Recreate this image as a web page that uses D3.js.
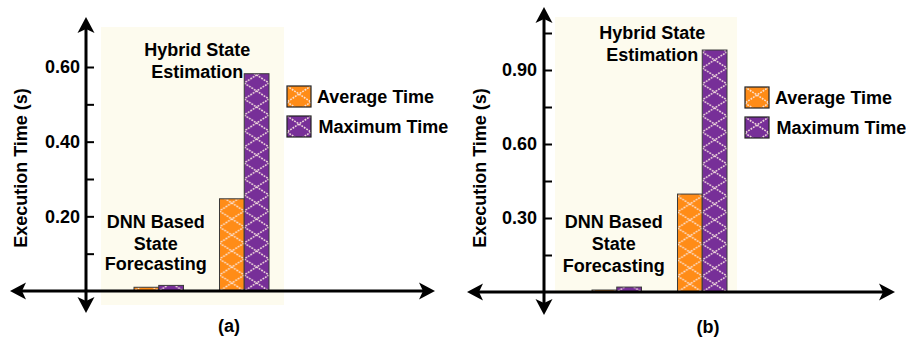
<!DOCTYPE html>
<html><head><meta charset="utf-8">
<script src="https://cdn.jsdelivr.net/npm/d3@7"></script>
<style>
html,body{margin:0;padding:0;background:#fff;}
svg text{font-family:"Liberation Sans",Arial,sans-serif;font-weight:bold;fill:#000;}
</style></head>
<body>
<svg id="chart" width="906" height="344"></svg>
<script>
// ---- data ----
const groups = ["DNN Based State Forecasting", "Hybrid State Estimation"];
const series = ["Average Time", "Maximum Time"];
const avgA = [0.010, 0.247];
const maxA = [0.015, 0.582];
const avgB = [0.008, 0.397];
const maxB = [0.020, 0.981];
const majorTicksA = [0.20, 0.40, 0.60];
const minorTicksA = [0.10, 0.30, 0.50];
const majorTicksB = [0.30, 0.60, 0.90];
const minorTicksB = [0.15, 0.45, 0.75, 1.05];
const panelLabels = ["(a)", "(b)"];
const yTitle = "Execution Time (s)";
const groupLabelLines = [["DNN Based", "State", "Forecasting"], ["Hybrid State", "Estimation"]];

// ---- layout ----
const colors = {"Average Time": "#ff8c17", "Maximum Time": "#772f98"};
const panels = [
  {avg: avgA, max: maxA, major: majorTicksA, minor: minorTicksA, label: panelLabels[0],
   axisX: 86, y0: 291, yRef: 67, refVal: 0.6, xRange: [134, 269],
   left: 10, right: 435, top: 17, bottom: 313, bg: [101, 27, 284, 305],
   legX: 287, legY: 86, titleX: 21, labX: 229, labY: 332, pad: 6,
   hyb: [56, 77.5], hybOff: -47, dnn: [228, 249.5, 270], dnnOff: -3},
  {avg: avgB, max: maxB, major: majorTicksB, minor: minorTicksB, label: panelLabels[1],
   axisX: 544, y0: 292, yRef: 70, refVal: 0.9, xRange: [592, 727],
   left: 467, right: 895, top: 7, bottom: 315, bg: [555, 17, 737, 292],
   legX: 745, legY: 87, titleX: 480, labX: 708, labY: 333, pad: 7,
   hyb: [39, 60.7], hybOff: -50, dnn: [228, 250, 271.5], dnnOff: -3}
];

const svg = d3.select("#chart");
const defs = svg.append("defs");
let patCount = 0;
function makePattern(color, x, y, w) {
  const id = "pat" + (patCount++);
  const h = 16;
  const p = defs.append("pattern").attr("id", id)
    .attr("patternUnits", "userSpaceOnUse")
    .attr("x", x).attr("y", y).attr("width", w).attr("height", h);
  p.append("rect").attr("width", w).attr("height", h).attr("fill", color);
  p.append("path").attr("d", `M0,0L${w},${h}M${w},0L0,${h}`)
    .attr("stroke", "#fbe8e2").attr("stroke-width", 1.6)
    .attr("stroke-dasharray", "1.8,1.1").attr("fill", "none").attr("opacity", 0.9);
  return `url(#${id})`;
}

function arrow(g, x, y, dir) {
  const L = 16, W = 8.5, N = 4;
  g.append("path")
    .attr("d", `M0,0L${-L},${-W}L${-L + N},0L${-L},${W}Z`)
    .attr("transform", `translate(${x},${y}) rotate(${dir})`)
    .attr("fill", "#000");
}

panels.forEach(P => {
  const g = svg.append("g");
  const y = d3.scaleLinear().domain([0, P.refVal]).range([P.y0, P.yRef]);
  const x0 = d3.scaleBand().domain(groups).range(P.xRange).paddingInner(0.421).paddingOuter(0);
  const x1 = d3.scaleBand().domain(series).range([0, x0.bandwidth()]).padding(0);

  // background
  g.append("rect").attr("x", P.bg[0]).attr("y", P.bg[1])
    .attr("width", P.bg[2] - P.bg[0]).attr("height", P.bg[3] - P.bg[1])
    .attr("fill", "#fdfbee");

  // bars
  const rows = groups.map((gr, i) => ({group: gr, vals: [P.avg[i], P.max[i]]}));
  const gg = g.selectAll(".grp").data(rows).enter().append("g")
    .attr("transform", d => `translate(${x0(d.group)},0)`);
  gg.selectAll("rect").data(d => d.vals.map((v, j) => ({s: series[j], v, j})))
    .enter().append("rect")
    .attr("x", d => x1(d.s)).attr("width", x1.bandwidth())
    .attr("y", d => y(d.v)).attr("height", d => y(0) - y(d.v))
    .attr("fill", d => makePattern(colors[d.s], x1(d.s), y(0), x1.bandwidth()))
    .attr("stroke", "#3a3a3a").attr("stroke-width", 1);

  // axes lines
  g.append("line").attr("x1", P.left + 6).attr("x2", P.right - 6)
    .attr("y1", y(0)).attr("y2", y(0)).attr("stroke", "#000").attr("stroke-width", 3);
  g.append("line").attr("x1", P.axisX).attr("x2", P.axisX)
    .attr("y1", P.top + 6).attr("y2", P.bottom - 6).attr("stroke", "#000").attr("stroke-width", 3);
  arrow(g, P.right, y(0), 0);
  arrow(g, P.left, y(0), 180);
  arrow(g, P.axisX, P.top, -90);
  arrow(g, P.axisX, P.bottom, 90);

  // ticks
  const major = d3.axisLeft(y).tickValues(P.major).tickFormat(d3.format(".2f"))
    .tickSizeInner(-8).tickSizeOuter(0).tickPadding(P.pad);
  const minor = d3.axisLeft(y).tickValues(P.minor).tickFormat("")
    .tickSizeInner(-8).tickSizeOuter(0);
  [major, minor].forEach(ax => {
    const a = g.append("g").attr("transform", `translate(${P.axisX},0)`).call(ax);
    a.select(".domain").remove();
    a.selectAll("line").attr("stroke", "#000").attr("stroke-width", 2);
    a.selectAll("text").attr("font-size", 18).attr("font-family", null).attr("fill", "#000");
  });

  // y title
  g.append("text").attr("transform", `translate(${P.titleX},168) rotate(-90)`)
    .attr("text-anchor", "middle").attr("dominant-baseline", "central")
    .attr("font-size", 18).text(yTitle);

  // group labels
  const dnnC = x0(groups[0]) + x0.bandwidth() / 2 + P.dnnOff;
  groupLabelLines[0].forEach((t, i) => {
    g.append("text").attr("x", dnnC).attr("y", P.dnn[i]).attr("text-anchor", "middle")
      .attr("font-size", 18).text(t);
  });
  const hybC = x0(groups[1]) + x0.bandwidth() / 2 + P.hybOff;
  groupLabelLines[1].forEach((t, i) => {
    g.append("text").attr("x", hybC).attr("y", P.hyb[i]).attr("text-anchor", "middle")
      .attr("font-size", 18).text(t);
  });

  // legend
  series.forEach((s, i) => {
    const ly = P.legY + i * 30;
    g.append("rect").attr("x", P.legX).attr("y", ly).attr("width", 24).attr("height", 21)
      .attr("fill", makePattern(colors[s], P.legX, ly, 24))
      .attr("stroke", "#222").attr("stroke-width", 1.2);
    g.append("text").attr("x", P.legX + 30 + i * 1.5).attr("y", ly + 16.5)
      .attr("font-size", 18).text(s);
  });

  // panel label
  g.append("text").attr("x", P.labX).attr("y", P.labY).attr("text-anchor", "middle")
    .attr("font-size", 18).text(P.label);
});
</script>
</body></html>
